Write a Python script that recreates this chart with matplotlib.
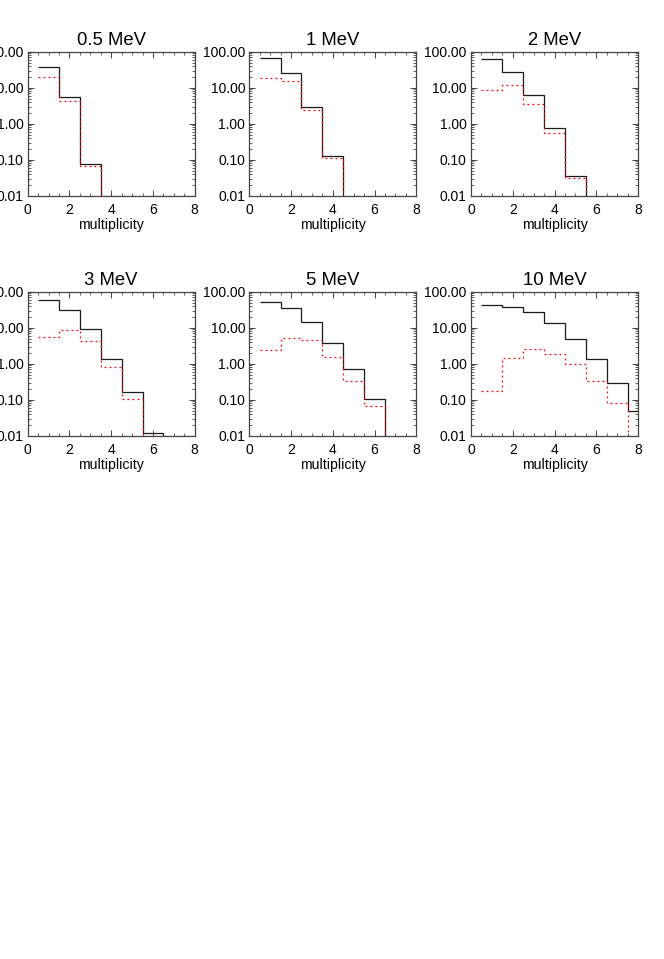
import numpy as np
import matplotlib
matplotlib.use("Agg")
import matplotlib.pyplot as plt
from matplotlib.ticker import FormatStrFormatter, MultipleLocator, LogLocator

plt.rcParams["font.family"] = ["Liberation Sans", "DejaVu Sans"]

# multiplicity bins 1..8 (edges at half-integers)
multiplicity = [1, 2, 3, 4, 5, 6, 7, 8]
energies = ["0.5 MeV", "1 MeV", "2 MeV", "3 MeV", "5 MeV", "10 MeV"]

# solid black histograms (0 = empty bin)
solid_05 = [37, 5.5, 0.077, 0, 0, 0, 0, 0]
solid_1 = [68, 25.8, 3.0, 0.124, 0, 0, 0, 0]
solid_2 = [62, 27.5, 6.1, 0.74, 0.036, 0, 0, 0]
solid_3 = [60, 30.6, 9.0, 1.38, 0.16, 0.0116, 0, 0]
solid_5 = [52, 34.8, 14.7, 3.8, 0.72, 0.104, 0, 0]
solid_10 = [42, 38.8, 27.5, 13.8, 4.8, 1.32, 0.30, 0.050]

# dotted red histograms
dotted_05 = [19.5, 4.4, 0.066, 0.01, 0.01, 0.01, 0.01, 0.01]
dotted_1 = [18.7, 15.7, 2.37, 0.114, 0.01, 0.01, 0.01, 0.01]
dotted_2 = [8.8, 11.9, 3.56, 0.54, 0.031, 0, 0.01, 0.01]
dotted_3 = [5.4, 8.9, 4.3, 0.82, 0.107, 0.01, 0.01, 0.01]
dotted_5 = [2.37, 5.1, 4.6, 1.5, 0.33, 0.066, 0, 0.01]
dotted_10 = [0.18, 1.44, 2.5, 1.83, 0.96, 0.33, 0.082, 0.01]

solid = [solid_05, solid_1, solid_2, solid_3, solid_5, solid_10]
dotted = [dotted_05, dotted_1, dotted_2, dotted_3, dotted_5, dotted_10]

W, H = 664, 959
fig = plt.figure(figsize=(W / 100, H / 100), dpi=100)

lefts = [27.7, 249.3, 471.0]
tops = [51.7, 291.7]
aw, ah = 167.0, 144.0

edges = np.append(np.array(multiplicity) - 0.5, multiplicity[-1] + 0.5)

for i, name in enumerate(energies):
    r, c = divmod(i, 3)
    ax = fig.add_axes([lefts[c] / W, 1 - (tops[r] + ah) / H, aw / W, ah / H])
    ax.set_yscale("log")
    ax.stairs(solid[i], edges, baseline=None, color="#1a1a1a", linewidth=0.9, zorder=3)
    # dotted drawn above the frame so the bottom-edge runs stay visible
    ax.stairs(dotted[i], edges, baseline=None, color="red", linewidth=0.9,
              linestyle=(0, (1.5, 2.5)), zorder=4)
    ax.set_xlim(0, 8)
    ax.set_ylim(0.01, 100)
    ax.set_title(name, fontsize=13.3, pad=5)
    ax.set_xlabel("multiplicity", fontsize=10.2, labelpad=1)
    ax.xaxis.set_major_locator(MultipleLocator(2))
    ax.xaxis.set_minor_locator(MultipleLocator(0.5))
    ax.yaxis.set_major_locator(LogLocator(base=10, numticks=10))
    ax.yaxis.set_minor_locator(LogLocator(base=10, subs=np.arange(2, 10), numticks=10))
    ax.yaxis.set_major_formatter(FormatStrFormatter("%.2f"))
    ax.tick_params(which="both", direction="in", top=True, right=True,
                   labelsize=10, color="#444444")
    ax.tick_params(which="major", length=4.5, width=0.7, pad=5)
    ax.tick_params(which="minor", length=2.2, width=0.6)
    ax.tick_params(axis="y", which="major", pad=3)
    for s in ax.spines.values():
        s.set_linewidth(0.9)
        s.set_color("#444444")

fig.savefig("out.png", dpi=100)
